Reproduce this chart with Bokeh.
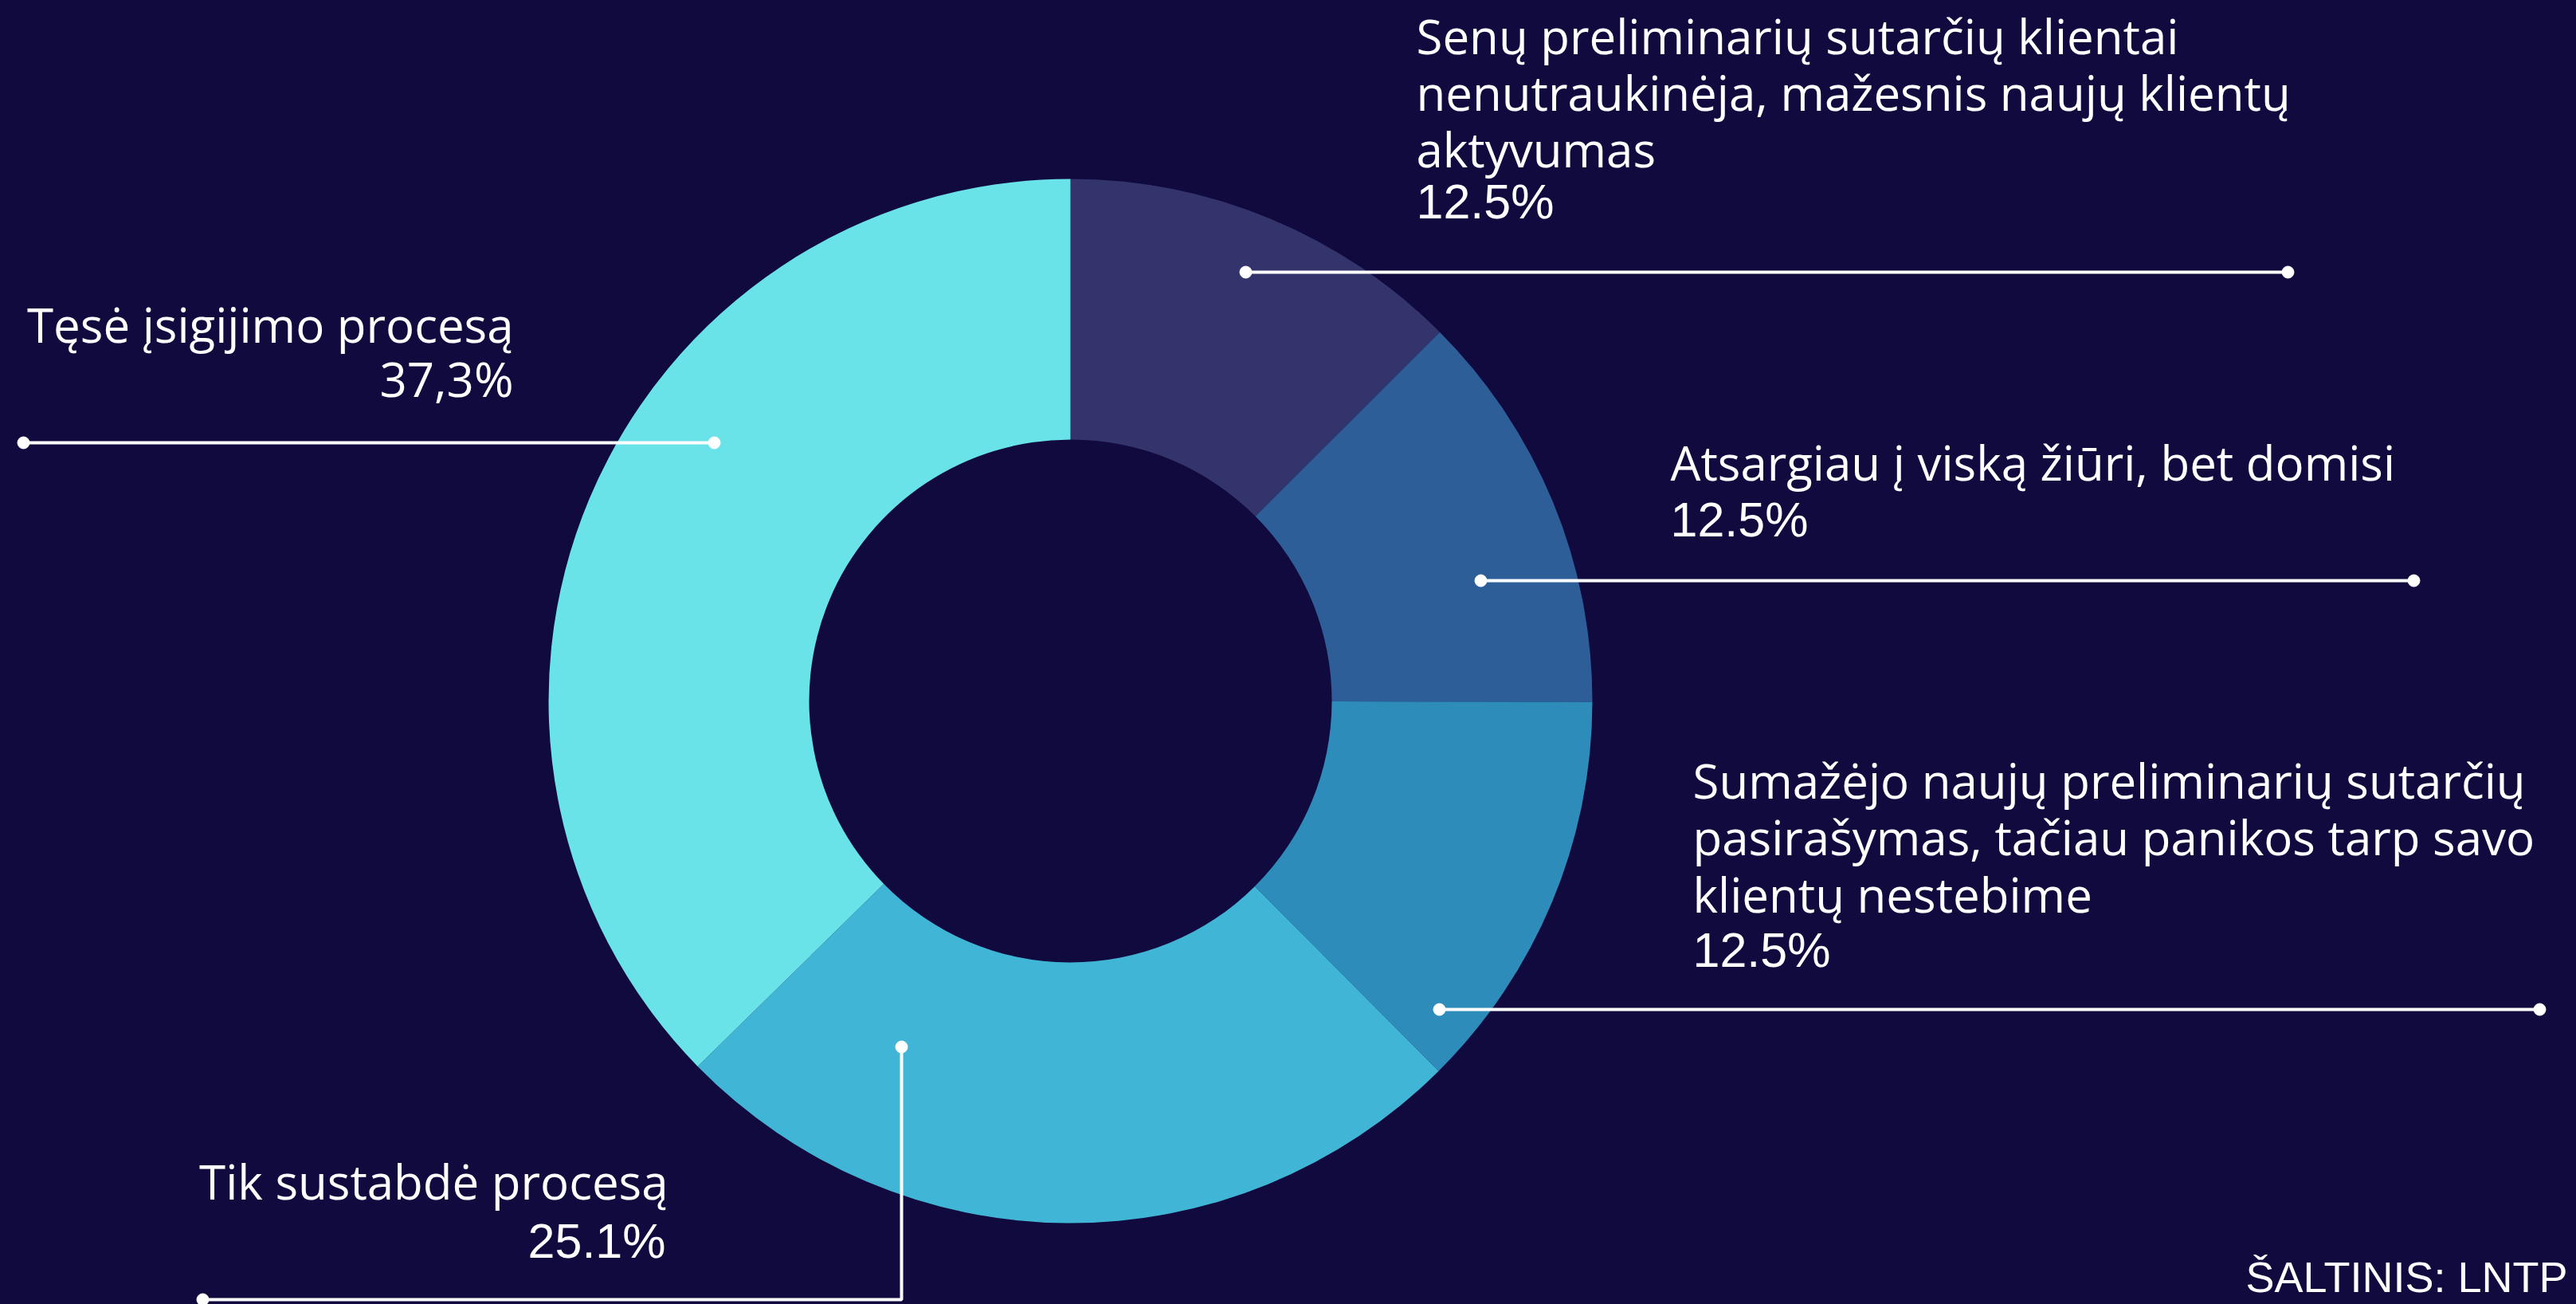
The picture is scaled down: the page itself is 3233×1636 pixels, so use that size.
import numpy as np
from bokeh.plotting import figure
from bokeh.models import Range1d, ColumnDataSource, GlobalInlineStyleSheet
from bokeh.core.properties import value
from bokeh.embed import file_html
from bokeh.resources import INLINE

# ---- data ----
categories = [
    "Senų preliminarių sutarčių klientai\nnenutraukinėja, mažesnis naujų klientų\naktyvumas",
    "Atsargiau į viską žiūri, bet domisi",
    "Sumažėjo naujų preliminarių sutarčių\npasirašymas, tačiau panikos tarp savo\nklientų nestebime",
    "Tik sustabdė procesą",
    "Tęsė įsigijimo procesą",
]
values = [12.5, 12.5, 12.5, 25.1, 37.3]
pct_labels = ["12.5%", "12.5%", "12.5%", "25.1%", "37,3%"]
colors = ["#33346c", "#2d5e98", "#2e8cbb", "#41b5d6", "#6ae3e8"]
source_text = "ŠALTINIS: LNTP"

BG = "#110a3f"
W, H = 3233, 1636

def Y(yref):
    return H - yref

p = figure(width=W, height=H, output_backend="svg", toolbar_location=None,
           x_range=Range1d(0, W), y_range=Range1d(0, H), min_border=0)
p.background_fill_color = BG
p.border_fill_color = BG
p.outline_line_color = None
p.axis.visible = False
p.grid.visible = False
p.stylesheets = [GlobalInlineStyleSheet(css="html, body { background: %s; overflow: hidden; }" % BG)]

# ---- donut ----
cx, cy = 1343, Y(879)
vals = np.array(values)
frac = vals / vals.sum()
cum = np.concatenate([[0], np.cumsum(frac)])
start = np.pi / 2 - cum[1:] * 2 * np.pi
end = np.pi / 2 - cum[:-1] * 2 * np.pi
src = ColumnDataSource(dict(start=start, end=end, color=colors))
p.annular_wedge(x=cx, y=cy, inner_radius=328, outer_radius=655,
                start_angle="start", end_angle="end", direction="anticlock",
                fill_color="color", line_color=None, source=src)

# ---- leader lines (layout) ----
leaders = [
    [(1563, 341), (2871, 341)],
    [(1858, 728), (3029, 728)],
    [(1806, 1266), (3187, 1266)],
    [(1131, 1313), (1131, 1630), (254, 1630)],
    [(29, 555), (896, 555)],
]
for pts in leaders:
    xs = [a for a, b in pts]
    ys = [Y(b) for a, b in pts]
    p.line(xs, ys, line_color="white", line_width=4)
    p.scatter([xs[0], xs[-1]], [ys[0], ys[-1]], size=15, color="white")

# ---- labels (layout) ----
LF = value("Open Sans")
PF = value("Liberation Sans")
OS_SHIFT = 24
LS_SHIFT = 19
label_pos = [
    (1777, [68, 139, 210], 271, "left"),
    (2096, [603], 670, "left"),
    (2124, [1002, 1073, 1145], 1210, "left"),
    (838, [1505], 1575, "right"),
    (644, [430], 498, "right"),
]
for i, (lx, bases, pbase, align) in enumerate(label_pos):
    lines = categories[i].split("\n")
    p.text(x=[lx] * len(lines), y=[Y(b - OS_SHIFT) for b in bases], text=lines,
           text_font=LF, text_font_size="60px", text_color="white",
           text_align=align, text_baseline="alphabetic")
    if i == 4:
        pfont, psize, sh = LF, "60px", OS_SHIFT
    else:
        pfont, psize, sh = PF, "61px", LS_SHIFT
    px = lx - 3 if i == 3 else lx
    p.text(x=[px], y=[Y(pbase - sh)], text=[pct_labels[i]],
           text_font=pfont, text_font_size=psize, text_color="white",
           text_align=align, text_baseline="alphabetic")

p.text(x=[3222], y=[Y(1620 - LS_SHIFT)], text=[source_text], text_font=PF,
       text_font_size="54px", text_color="white", text_align="right",
       text_baseline="alphabetic")

open("out.html", "w").write(file_html(p, INLINE))
